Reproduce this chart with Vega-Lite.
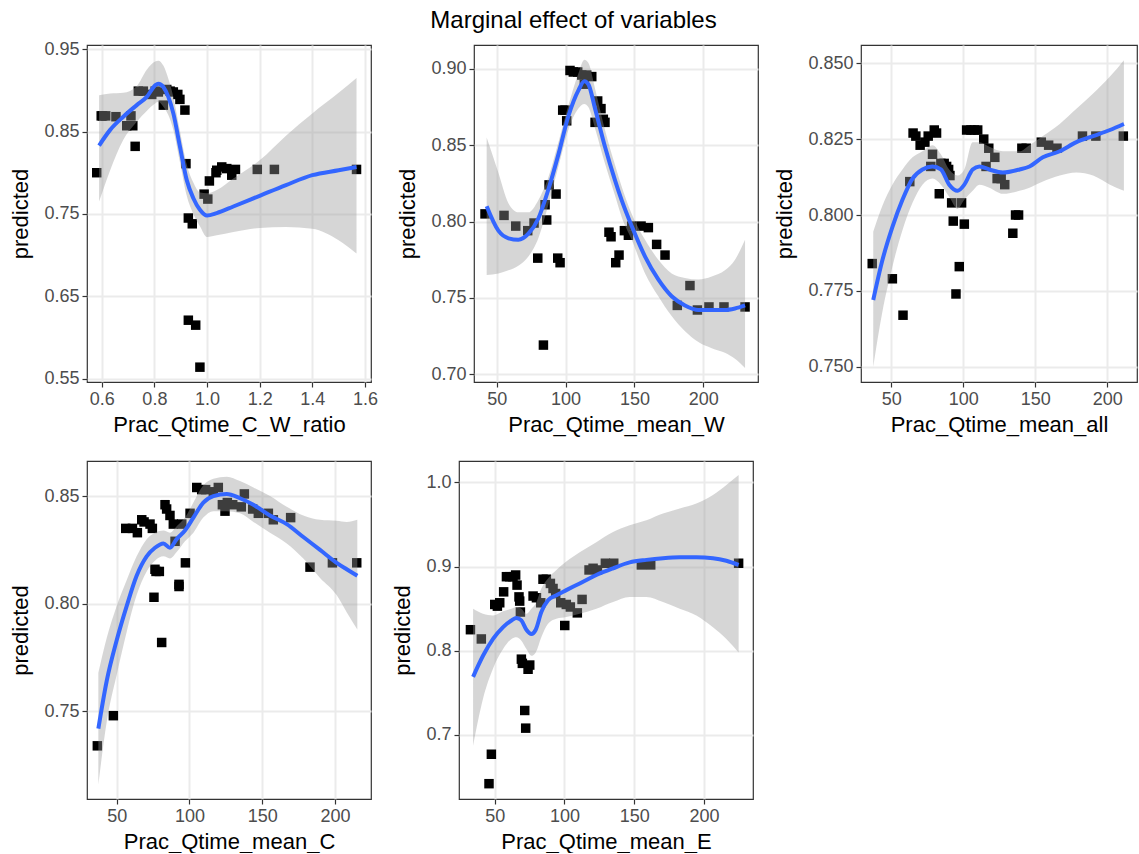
{
  "$schema": "https://vega.github.io/schema/vega-lite/v6.json",
  "padding": {"left": 9, "top": 8, "right": 0, "bottom": 0},
  "title": {"text": "Marginal effect of variables", "anchor": "middle", "fontSize": 24, "fontWeight": "normal", "color": "black", "offset": 7},
  "datasets": {
    "p1": [
      {"x": 0.581, "y": 0.800}, {"x": 0.598, "y": 0.869}, {"x": 0.603, "y": 0.869}, {"x": 0.615, "y": 0.869},
      {"x": 0.654, "y": 0.868}, {"x": 0.695, "y": 0.857}, {"x": 0.711, "y": 0.869}, {"x": 0.718, "y": 0.857},
      {"x": 0.727, "y": 0.832}, {"x": 0.739, "y": 0.899}, {"x": 0.758, "y": 0.899}, {"x": 0.79, "y": 0.895},
      {"x": 0.803, "y": 0.899}, {"x": 0.815, "y": 0.898}, {"x": 0.834, "y": 0.882}, {"x": 0.847, "y": 0.901},
      {"x": 0.86, "y": 0.899}, {"x": 0.872, "y": 0.898}, {"x": 0.889, "y": 0.895}, {"x": 0.897, "y": 0.889},
      {"x": 0.916, "y": 0.876}, {"x": 0.92, "y": 0.811}, {"x": 0.929, "y": 0.745}, {"x": 0.944, "y": 0.738},
      {"x": 0.929, "y": 0.621}, {"x": 0.957, "y": 0.615}, {"x": 0.973, "y": 0.564}, {"x": 0.989, "y": 0.774},
      {"x": 1.003, "y": 0.768}, {"x": 1.009, "y": 0.790}, {"x": 1.034, "y": 0.800}, {"x": 1.037, "y": 0.803},
      {"x": 1.056, "y": 0.807}, {"x": 1.075, "y": 0.805}, {"x": 1.094, "y": 0.797}, {"x": 1.108, "y": 0.804},
      {"x": 1.191, "y": 0.804}, {"x": 1.256, "y": 0.804}, {"x": 1.568, "y": 0.804}
    ],
    "f1": [
      {"x": 0.59, "fit": 0.833, "lo": 0.765, "hi": 0.894},
      {"x": 0.632, "fit": 0.852, "lo": 0.803, "hi": 0.896},
      {"x": 0.682, "fit": 0.868, "lo": 0.840, "hi": 0.897},
      {"x": 0.733, "fit": 0.882, "lo": 0.862, "hi": 0.905},
      {"x": 0.771, "fit": 0.892, "lo": 0.875, "hi": 0.925},
      {"x": 0.803, "fit": 0.906, "lo": 0.884, "hi": 0.935},
      {"x": 0.815, "fit": 0.908, "lo": 0.886, "hi": 0.936},
      {"x": 0.834, "fit": 0.904, "lo": 0.880, "hi": 0.930},
      {"x": 0.853, "fit": 0.892, "lo": 0.870, "hi": 0.914},
      {"x": 0.872, "fit": 0.872, "lo": 0.852, "hi": 0.892},
      {"x": 0.897, "fit": 0.832, "lo": 0.813, "hi": 0.851},
      {"x": 0.923, "fit": 0.791, "lo": 0.772, "hi": 0.810},
      {"x": 0.948, "fit": 0.769, "lo": 0.750, "hi": 0.788},
      {"x": 0.973, "fit": 0.755, "lo": 0.735, "hi": 0.776},
      {"x": 1.0, "fit": 0.748, "lo": 0.722, "hi": 0.775},
      {"x": 1.037, "fit": 0.751, "lo": 0.724, "hi": 0.779},
      {"x": 1.1, "fit": 0.759, "lo": 0.728, "hi": 0.793},
      {"x": 1.2, "fit": 0.772, "lo": 0.733, "hi": 0.815},
      {"x": 1.3, "fit": 0.785, "lo": 0.734, "hi": 0.845},
      {"x": 1.4, "fit": 0.797, "lo": 0.732, "hi": 0.872},
      {"x": 1.5, "fit": 0.803, "lo": 0.718, "hi": 0.897},
      {"x": 1.568, "fit": 0.807, "lo": 0.702, "hi": 0.915}
    ],
    "p2": [
      {"x": 41.5, "y": 0.805}, {"x": 55.3, "y": 0.804}, {"x": 63.8, "y": 0.797}, {"x": 72.5, "y": 0.794},
      {"x": 77.1, "y": 0.799}, {"x": 79.8, "y": 0.776}, {"x": 83.9, "y": 0.719}, {"x": 85.1, "y": 0.811},
      {"x": 86.3, "y": 0.801}, {"x": 88, "y": 0.824}, {"x": 93.1, "y": 0.818}, {"x": 94.3, "y": 0.776},
      {"x": 96, "y": 0.773}, {"x": 97.9, "y": 0.873}, {"x": 99.6, "y": 0.873}, {"x": 100.8, "y": 0.866},
      {"x": 103.2, "y": 0.899}, {"x": 105.6, "y": 0.898}, {"x": 108.8, "y": 0.898}, {"x": 111.7, "y": 0.896},
      {"x": 113.6, "y": 0.890}, {"x": 115.3, "y": 0.896}, {"x": 119, "y": 0.895}, {"x": 121.4, "y": 0.865},
      {"x": 123.3, "y": 0.879}, {"x": 125.7, "y": 0.874}, {"x": 127.4, "y": 0.867}, {"x": 128.6, "y": 0.865},
      {"x": 131.5, "y": 0.793}, {"x": 133, "y": 0.790}, {"x": 136.4, "y": 0.773}, {"x": 138.8, "y": 0.778},
      {"x": 142.7, "y": 0.794}, {"x": 145.6, "y": 0.791}, {"x": 148, "y": 0.797}, {"x": 154.8, "y": 0.797},
      {"x": 160.1, "y": 0.796}, {"x": 166.1, "y": 0.785}, {"x": 172.2, "y": 0.778}, {"x": 181.1, "y": 0.745},
      {"x": 190.3, "y": 0.758}, {"x": 195.7, "y": 0.742}, {"x": 204.1, "y": 0.744}, {"x": 215, "y": 0.744},
      {"x": 230.3, "y": 0.744}
    ],
    "f2": [
      {"x": 42.7, "fit": 0.810, "lo": 0.765, "hi": 0.855},
      {"x": 51.2, "fit": 0.794, "lo": 0.766, "hi": 0.832},
      {"x": 58.5, "fit": 0.789, "lo": 0.768, "hi": 0.812},
      {"x": 65.7, "fit": 0.788, "lo": 0.771, "hi": 0.806},
      {"x": 73, "fit": 0.792, "lo": 0.777, "hi": 0.806},
      {"x": 80.2, "fit": 0.802, "lo": 0.789, "hi": 0.814},
      {"x": 87.5, "fit": 0.821, "lo": 0.811, "hi": 0.829},
      {"x": 94.8, "fit": 0.844, "lo": 0.836, "hi": 0.852},
      {"x": 102, "fit": 0.869, "lo": 0.860, "hi": 0.876},
      {"x": 109.3, "fit": 0.886, "lo": 0.874, "hi": 0.897},
      {"x": 113.6, "fit": 0.892, "lo": 0.877, "hi": 0.906},
      {"x": 116.5, "fit": 0.890, "lo": 0.875, "hi": 0.904},
      {"x": 121.4, "fit": 0.874, "lo": 0.861, "hi": 0.887},
      {"x": 128.6, "fit": 0.849, "lo": 0.838, "hi": 0.860},
      {"x": 135.9, "fit": 0.827, "lo": 0.817, "hi": 0.837},
      {"x": 140.7, "fit": 0.814, "lo": 0.803, "hi": 0.823},
      {"x": 148, "fit": 0.797, "lo": 0.788, "hi": 0.805},
      {"x": 157.7, "fit": 0.777, "lo": 0.766, "hi": 0.788},
      {"x": 167.3, "fit": 0.762, "lo": 0.751, "hi": 0.775},
      {"x": 177, "fit": 0.751, "lo": 0.738, "hi": 0.766},
      {"x": 186.7, "fit": 0.745, "lo": 0.728, "hi": 0.763},
      {"x": 196.4, "fit": 0.742, "lo": 0.721, "hi": 0.762},
      {"x": 206.1, "fit": 0.742, "lo": 0.717, "hi": 0.764},
      {"x": 215.7, "fit": 0.742, "lo": 0.714, "hi": 0.768},
      {"x": 223, "fit": 0.743, "lo": 0.710, "hi": 0.775},
      {"x": 230.3, "fit": 0.745, "lo": 0.704, "hi": 0.788}
    ],
    "p3": [
      {"x": 36.7, "y": 0.784}, {"x": 50.7, "y": 0.779}, {"x": 58.1, "y": 0.767}, {"x": 62.8, "y": 0.811},
      {"x": 65.1, "y": 0.827}, {"x": 67, "y": 0.826}, {"x": 70, "y": 0.823}, {"x": 73.3, "y": 0.824},
      {"x": 75.6, "y": 0.826}, {"x": 77.4, "y": 0.816}, {"x": 78.6, "y": 0.820}, {"x": 79.8, "y": 0.828},
      {"x": 81.4, "y": 0.827}, {"x": 83.3, "y": 0.807}, {"x": 84.4, "y": 0.817}, {"x": 86.7, "y": 0.817},
      {"x": 88.4, "y": 0.816}, {"x": 89.8, "y": 0.815}, {"x": 90.7, "y": 0.813}, {"x": 91.9, "y": 0.804},
      {"x": 93, "y": 0.798}, {"x": 94.9, "y": 0.774}, {"x": 97.2, "y": 0.783}, {"x": 98.8, "y": 0.804},
      {"x": 100.7, "y": 0.797}, {"x": 102.3, "y": 0.828}, {"x": 105.3, "y": 0.828}, {"x": 107.7, "y": 0.828},
      {"x": 110, "y": 0.828}, {"x": 114.2, "y": 0.825}, {"x": 115.8, "y": 0.816}, {"x": 117.7, "y": 0.822},
      {"x": 121.9, "y": 0.819}, {"x": 123.5, "y": 0.812}, {"x": 126.3, "y": 0.812}, {"x": 128.8, "y": 0.810},
      {"x": 134.4, "y": 0.794}, {"x": 136.3, "y": 0.800}, {"x": 138.4, "y": 0.800}, {"x": 140.7, "y": 0.822},
      {"x": 143.7, "y": 0.822}, {"x": 154.2, "y": 0.824}, {"x": 159.3, "y": 0.823}, {"x": 165.1, "y": 0.822},
      {"x": 182.8, "y": 0.826}, {"x": 192.1, "y": 0.826}, {"x": 211.2, "y": 0.826}
    ],
    "f3": [
      {"x": 37.4, "fit": 0.772, "lo": 0.750, "hi": 0.7945},
      {"x": 43.7, "fit": 0.785, "lo": 0.768, "hi": 0.803},
      {"x": 50.7, "fit": 0.796, "lo": 0.783, "hi": 0.810},
      {"x": 57.7, "fit": 0.805, "lo": 0.795, "hi": 0.815},
      {"x": 64.7, "fit": 0.812, "lo": 0.804, "hi": 0.819},
      {"x": 71.6, "fit": 0.815, "lo": 0.810, "hi": 0.821},
      {"x": 78.6, "fit": 0.816, "lo": 0.812, "hi": 0.823},
      {"x": 84.4, "fit": 0.815, "lo": 0.810, "hi": 0.820},
      {"x": 90.2, "fit": 0.810, "lo": 0.806, "hi": 0.815},
      {"x": 96, "fit": 0.808, "lo": 0.802, "hi": 0.813},
      {"x": 100.7, "fit": 0.810, "lo": 0.805, "hi": 0.815},
      {"x": 106.5, "fit": 0.815, "lo": 0.808, "hi": 0.824},
      {"x": 111.2, "fit": 0.816, "lo": 0.810, "hi": 0.824},
      {"x": 118.1, "fit": 0.815, "lo": 0.809, "hi": 0.8225},
      {"x": 127.4, "fit": 0.814, "lo": 0.807, "hi": 0.821},
      {"x": 139.1, "fit": 0.815, "lo": 0.808, "hi": 0.821},
      {"x": 146, "fit": 0.816, "lo": 0.809, "hi": 0.823},
      {"x": 155.3, "fit": 0.819, "lo": 0.811, "hi": 0.826},
      {"x": 167, "fit": 0.821, "lo": 0.813, "hi": 0.830},
      {"x": 178.6, "fit": 0.824, "lo": 0.814, "hi": 0.835},
      {"x": 190.2, "fit": 0.826, "lo": 0.813, "hi": 0.840},
      {"x": 201.9, "fit": 0.828, "lo": 0.810, "hi": 0.8456},
      {"x": 211.6, "fit": 0.830, "lo": 0.808, "hi": 0.851}
    ],
    "p4": [
      {"x": 36.7, "y": 0.734}, {"x": 47.7, "y": 0.748}, {"x": 56.2, "y": 0.835}, {"x": 60.8, "y": 0.835},
      {"x": 64.2, "y": 0.833}, {"x": 67.2, "y": 0.839}, {"x": 68.8, "y": 0.838}, {"x": 72.9, "y": 0.837},
      {"x": 74.5, "y": 0.835}, {"x": 75.6, "y": 0.803}, {"x": 76.3, "y": 0.816}, {"x": 77, "y": 0.815},
      {"x": 79.3, "y": 0.815}, {"x": 80.9, "y": 0.782}, {"x": 83.2, "y": 0.846}, {"x": 84.3, "y": 0.844},
      {"x": 86.6, "y": 0.841}, {"x": 88.9, "y": 0.837}, {"x": 90.1, "y": 0.829}, {"x": 92.8, "y": 0.809},
      {"x": 92.8, "y": 0.808}, {"x": 94.7, "y": 0.837}, {"x": 97.2, "y": 0.819}, {"x": 100.4, "y": 0.842},
      {"x": 105, "y": 0.854}, {"x": 108.4, "y": 0.853}, {"x": 111.1, "y": 0.853}, {"x": 116.4, "y": 0.852},
      {"x": 119.8, "y": 0.854}, {"x": 122.6, "y": 0.846}, {"x": 124.4, "y": 0.843}, {"x": 126, "y": 0.847},
      {"x": 129.7, "y": 0.846}, {"x": 135.6, "y": 0.845}, {"x": 137.7, "y": 0.851}, {"x": 143.4, "y": 0.844},
      {"x": 147.3, "y": 0.842}, {"x": 154.2, "y": 0.842}, {"x": 157.6, "y": 0.839}, {"x": 169.5, "y": 0.840},
      {"x": 182.8, "y": 0.817}, {"x": 198.2, "y": 0.819}, {"x": 214.9, "y": 0.819}
    ],
    "f4": [
      {"x": 37.4, "fit": 0.742, "lo": 0.716, "hi": 0.768},
      {"x": 43.1, "fit": 0.764, "lo": 0.745, "hi": 0.784},
      {"x": 50, "fit": 0.783, "lo": 0.767, "hi": 0.799},
      {"x": 56.9, "fit": 0.799, "lo": 0.787, "hi": 0.811},
      {"x": 63.7, "fit": 0.813, "lo": 0.804, "hi": 0.822},
      {"x": 70.6, "fit": 0.822, "lo": 0.815, "hi": 0.830},
      {"x": 76.3, "fit": 0.826, "lo": 0.820, "hi": 0.833},
      {"x": 82.1, "fit": 0.828, "lo": 0.822, "hi": 0.834},
      {"x": 86.6, "fit": 0.826, "lo": 0.821, "hi": 0.833},
      {"x": 91.2, "fit": 0.830, "lo": 0.824, "hi": 0.836},
      {"x": 96.9, "fit": 0.834, "lo": 0.829, "hi": 0.840},
      {"x": 102.7, "fit": 0.840, "lo": 0.833, "hi": 0.847},
      {"x": 109.5, "fit": 0.847, "lo": 0.840, "hi": 0.855},
      {"x": 116.4, "fit": 0.850, "lo": 0.843, "hi": 0.858},
      {"x": 125.6, "fit": 0.851, "lo": 0.843, "hi": 0.859},
      {"x": 134.7, "fit": 0.849, "lo": 0.842, "hi": 0.857},
      {"x": 143.9, "fit": 0.846, "lo": 0.838, "hi": 0.854},
      {"x": 155.3, "fit": 0.841, "lo": 0.833, "hi": 0.850},
      {"x": 166.8, "fit": 0.837, "lo": 0.828, "hi": 0.845},
      {"x": 178.2, "fit": 0.831, "lo": 0.821, "hi": 0.841},
      {"x": 189.7, "fit": 0.825, "lo": 0.812, "hi": 0.839},
      {"x": 201.1, "fit": 0.819, "lo": 0.804, "hi": 0.8385},
      {"x": 208, "fit": 0.816, "lo": 0.796, "hi": 0.838},
      {"x": 215.3, "fit": 0.813, "lo": 0.788, "hi": 0.839}
    ],
    "p5": [
      {"x": 32.6, "y": 0.825}, {"x": 40.4, "y": 0.814}, {"x": 45.9, "y": 0.642}, {"x": 47.6, "y": 0.677},
      {"x": 50, "y": 0.855}, {"x": 51.9, "y": 0.853}, {"x": 53.6, "y": 0.857}, {"x": 56.4, "y": 0.870},
      {"x": 58.4, "y": 0.888}, {"x": 60.7, "y": 0.888}, {"x": 63.1, "y": 0.888}, {"x": 65, "y": 0.890},
      {"x": 66, "y": 0.878}, {"x": 67.4, "y": 0.864}, {"x": 67.9, "y": 0.859}, {"x": 68.4, "y": 0.846},
      {"x": 69.1, "y": 0.790}, {"x": 69.8, "y": 0.785}, {"x": 71.5, "y": 0.729}, {"x": 72.2, "y": 0.708},
      {"x": 73.9, "y": 0.778}, {"x": 75.1, "y": 0.783}, {"x": 77.5, "y": 0.865}, {"x": 79.9, "y": 0.863},
      {"x": 83, "y": 0.857}, {"x": 84.6, "y": 0.885}, {"x": 87, "y": 0.885}, {"x": 89.9, "y": 0.880},
      {"x": 91.8, "y": 0.874}, {"x": 93.7, "y": 0.868}, {"x": 97.3, "y": 0.857}, {"x": 100.2, "y": 0.830},
      {"x": 101.3, "y": 0.855}, {"x": 104.2, "y": 0.852}, {"x": 109.2, "y": 0.845}, {"x": 112.6, "y": 0.861},
      {"x": 117.6, "y": 0.896}, {"x": 120.5, "y": 0.898}, {"x": 123.6, "y": 0.896}, {"x": 129.3, "y": 0.904},
      {"x": 135.3, "y": 0.904}, {"x": 155.1, "y": 0.902}, {"x": 161.8, "y": 0.902}, {"x": 224.8, "y": 0.904}
    ],
    "f5": [
      {"x": 34.5, "fit": 0.769, "lo": 0.687, "hi": 0.850},
      {"x": 41.6, "fit": 0.794, "lo": 0.743, "hi": 0.844},
      {"x": 48.8, "fit": 0.814, "lo": 0.779, "hi": 0.842},
      {"x": 56, "fit": 0.828, "lo": 0.802, "hi": 0.847},
      {"x": 62, "fit": 0.836, "lo": 0.814, "hi": 0.850},
      {"x": 65.5, "fit": 0.839, "lo": 0.816, "hi": 0.852},
      {"x": 69.1, "fit": 0.836, "lo": 0.812, "hi": 0.850},
      {"x": 72.7, "fit": 0.825, "lo": 0.802, "hi": 0.844},
      {"x": 76.3, "fit": 0.820, "lo": 0.794, "hi": 0.850},
      {"x": 79.4, "fit": 0.825, "lo": 0.798, "hi": 0.856},
      {"x": 83.4, "fit": 0.846, "lo": 0.816, "hi": 0.874},
      {"x": 88.2, "fit": 0.860, "lo": 0.832, "hi": 0.886},
      {"x": 94.2, "fit": 0.866, "lo": 0.838, "hi": 0.896},
      {"x": 101.3, "fit": 0.872, "lo": 0.840, "hi": 0.906},
      {"x": 110.9, "fit": 0.880, "lo": 0.844, "hi": 0.917},
      {"x": 122.8, "fit": 0.890, "lo": 0.850, "hi": 0.929},
      {"x": 134.8, "fit": 0.898, "lo": 0.858, "hi": 0.941},
      {"x": 146.7, "fit": 0.905, "lo": 0.864, "hi": 0.949},
      {"x": 158.7, "fit": 0.908, "lo": 0.864, "hi": 0.955},
      {"x": 170.6, "fit": 0.910, "lo": 0.858, "hi": 0.963},
      {"x": 182.6, "fit": 0.911, "lo": 0.850, "hi": 0.969},
      {"x": 194.5, "fit": 0.911, "lo": 0.842, "hi": 0.975},
      {"x": 206.4, "fit": 0.910, "lo": 0.828, "hi": 0.985},
      {"x": 216, "fit": 0.907, "lo": 0.814, "hi": 0.997},
      {"x": 224.8, "fit": 0.902, "lo": 0.798, "hi": 1.009}
    ]
  },
  "spacing": 24,
  "vconcat": [
    {
      "spacing": 103,
      "bounds": "flush",
      "hconcat": [
        {
          "width": 284, "height": 337,
          "resolve": {"axis": {"x": "independent", "y": "independent"}},
          "layer": [
            {"data": {"name": "p1"}, "mark": {"type": "point", "shape": "square", "filled": true, "size": 90, "color": "black", "opacity": 1},
             "encoding": {
               "x": {"field": "x", "type": "quantitative", "scale": {"domain": [0.544, 1.623], "nice": false, "zero": false}, "axis": {"values": [0.6, 0.8, 1.0, 1.2, 1.4, 1.6], "format": ".1f", "title": "Prac_Qtime_C_W_ratio"}},
               "y": {"field": "y", "type": "quantitative", "scale": {"domain": [0.546, 0.955], "nice": false, "zero": false}, "axis": {"values": [0.55, 0.65, 0.75, 0.85, 0.95], "format": ".2f", "title": "predicted"}}}},
            {"data": {"name": "f1"}, "mark": {"type": "area", "color": "#999999", "opacity": 0.4, "interpolate": "monotone"},
             "encoding": {
               "x": {"field": "x", "type": "quantitative", "axis": {"orient": "top", "values": [0.7, 0.9, 1.1, 1.3, 1.5], "labels": false, "ticks": false, "domain": false, "title": null, "gridWidth": 1}},
               "y": {"field": "lo", "type": "quantitative", "axis": {"orient": "right", "values": [0.6, 0.7, 0.8, 0.9], "labels": false, "ticks": false, "domain": false, "title": null, "gridWidth": 1}},
               "y2": {"field": "hi"}}},
            {"data": {"name": "f1"}, "mark": {"type": "line", "color": "#3366FF", "strokeWidth": 4, "interpolate": "monotone"},
             "encoding": {
               "x": {"field": "x", "type": "quantitative", "axis": null},
               "y": {"field": "fit", "type": "quantitative", "axis": null}}}
          ]
        },
        {
          "width": 284, "height": 337,
          "resolve": {"axis": {"x": "independent", "y": "independent"}},
          "layer": [
            {"data": {"name": "p2"}, "mark": {"type": "point", "shape": "square", "filled": true, "size": 90, "color": "black", "opacity": 1},
             "encoding": {
               "x": {"field": "x", "type": "quantitative", "scale": {"domain": [33.5, 239.7], "nice": false, "zero": false}, "axis": {"values": [50, 100, 150, 200], "title": "Prac_Qtime_mean_W"}},
               "y": {"field": "y", "type": "quantitative", "scale": {"domain": [0.6948, 0.9157], "nice": false, "zero": false}, "axis": {"values": [0.70, 0.75, 0.80, 0.85, 0.90], "format": ".2f", "title": "predicted"}}}},
            {"data": {"name": "f2"}, "mark": {"type": "area", "color": "#999999", "opacity": 0.4, "interpolate": "monotone"},
             "encoding": {
               "x": {"field": "x", "type": "quantitative", "axis": {"orient": "top", "values": [75, 125, 175, 225], "labels": false, "ticks": false, "domain": false, "title": null, "gridWidth": 1}},
               "y": {"field": "lo", "type": "quantitative", "axis": {"orient": "right", "values": [0.725, 0.775, 0.825, 0.875], "labels": false, "ticks": false, "domain": false, "title": null, "gridWidth": 1}},
               "y2": {"field": "hi"}}},
            {"data": {"name": "f2"}, "mark": {"type": "line", "color": "#3366FF", "strokeWidth": 4, "interpolate": "monotone"},
             "encoding": {
               "x": {"field": "x", "type": "quantitative", "axis": null},
               "y": {"field": "fit", "type": "quantitative", "axis": null}}}
          ]
        },
        {
          "width": 276, "height": 337,
          "resolve": {"axis": {"x": "independent", "y": "independent"}},
          "layer": [
            {"data": {"name": "p3"}, "mark": {"type": "point", "shape": "square", "filled": true, "size": 90, "color": "black", "opacity": 1},
             "encoding": {
               "x": {"field": "x", "type": "quantitative", "scale": {"domain": [28.9, 220.7], "nice": false, "zero": false}, "axis": {"values": [50, 100, 150, 200], "title": "Prac_Qtime_mean_all"}},
               "y": {"field": "y", "type": "quantitative", "scale": {"domain": [0.745, 0.856], "nice": false, "zero": false}, "axis": {"values": [0.750, 0.775, 0.800, 0.825, 0.850], "format": ".3f", "title": "predicted"}}}},
            {"data": {"name": "f3"}, "mark": {"type": "area", "color": "#999999", "opacity": 0.4, "interpolate": "monotone"},
             "encoding": {
               "x": {"field": "x", "type": "quantitative", "axis": {"orient": "top", "values": [75, 125, 175], "labels": false, "ticks": false, "domain": false, "title": null, "gridWidth": 1}},
               "y": {"field": "lo", "type": "quantitative", "axis": {"orient": "right", "values": [0.7625, 0.7875, 0.8125, 0.8375], "labels": false, "ticks": false, "domain": false, "title": null, "gridWidth": 1}},
               "y2": {"field": "hi"}}},
            {"data": {"name": "f3"}, "mark": {"type": "line", "color": "#3366FF", "strokeWidth": 4, "interpolate": "monotone"},
             "encoding": {
               "x": {"field": "x", "type": "quantitative", "axis": null},
               "y": {"field": "fit", "type": "quantitative", "axis": null}}}
          ]
        }
      ]
    },
    {
      "spacing": 88,
      "bounds": "flush",
      "hconcat": [
        {
          "width": 284, "height": 338,
          "resolve": {"axis": {"x": "independent", "y": "independent"}},
          "layer": [
            {"data": {"name": "p4"}, "mark": {"type": "point", "shape": "square", "filled": true, "size": 90, "color": "black", "opacity": 1},
             "encoding": {
               "x": {"field": "x", "type": "quantitative", "scale": {"domain": [29.6, 224.7], "nice": false, "zero": false}, "axis": {"values": [50, 100, 150, 200], "title": "Prac_Qtime_mean_C"}},
               "y": {"field": "y", "type": "quantitative", "scale": {"domain": [0.7093, 0.8663], "nice": false, "zero": false}, "axis": {"values": [0.75, 0.80, 0.85], "format": ".2f", "title": "predicted"}}}},
            {"data": {"name": "f4"}, "mark": {"type": "area", "color": "#999999", "opacity": 0.4, "interpolate": "monotone"},
             "encoding": {
               "x": {"field": "x", "type": "quantitative", "axis": {"orient": "top", "values": [75, 125, 175], "labels": false, "ticks": false, "domain": false, "title": null, "gridWidth": 1}},
               "y": {"field": "lo", "type": "quantitative", "axis": {"orient": "right", "values": [0.725, 0.775, 0.825], "labels": false, "ticks": false, "domain": false, "title": null, "gridWidth": 1}},
               "y2": {"field": "hi"}}},
            {"data": {"name": "f4"}, "mark": {"type": "line", "color": "#3366FF", "strokeWidth": 4, "interpolate": "monotone"},
             "encoding": {
               "x": {"field": "x", "type": "quantitative", "axis": null},
               "y": {"field": "fit", "type": "quantitative", "axis": null}}}
          ]
        },
        {
          "width": 294, "height": 338,
          "resolve": {"axis": {"x": "independent", "y": "independent"}},
          "layer": [
            {"data": {"name": "p5"}, "mark": {"type": "point", "shape": "square", "filled": true, "size": 90, "color": "black", "opacity": 1},
             "encoding": {
               "x": {"field": "x", "type": "quantitative", "scale": {"domain": [24.4, 235.1], "nice": false, "zero": false}, "axis": {"values": [50, 100, 150, 200], "title": "Prac_Qtime_mean_E"}},
               "y": {"field": "y", "type": "quantitative", "scale": {"domain": [0.6238, 1.0255], "nice": false, "zero": false}, "axis": {"values": [0.7, 0.8, 0.9, 1.0], "format": ".1f", "title": "predicted"}}}},
            {"data": {"name": "f5"}, "mark": {"type": "area", "color": "#999999", "opacity": 0.4, "interpolate": "monotone"},
             "encoding": {
               "x": {"field": "x", "type": "quantitative", "axis": {"orient": "top", "values": [75, 125, 175, 225], "labels": false, "ticks": false, "domain": false, "title": null, "gridWidth": 1}},
               "y": {"field": "lo", "type": "quantitative", "axis": {"orient": "right", "values": [0.65, 0.75, 0.85, 0.95], "labels": false, "ticks": false, "domain": false, "title": null, "gridWidth": 1}},
               "y2": {"field": "hi"}}},
            {"data": {"name": "f5"}, "mark": {"type": "line", "color": "#3366FF", "strokeWidth": 4, "interpolate": "monotone"},
             "encoding": {
               "x": {"field": "x", "type": "quantitative", "axis": null},
               "y": {"field": "fit", "type": "quantitative", "axis": null}}}
          ]
        }
      ]
    }
  ],
  "config": {
    "font": "Liberation Sans",
    "view": {"stroke": "#333333", "strokeWidth": 1.2},
    "axis": {
      "labelFontSize": 18, "labelColor": "#4D4D4D", "labelPadding": 3, "labelFlush": false, "labelOverlap": false,
      "titleFontSize": 22, "titleFontWeight": "normal", "titleColor": "black",
      "tickColor": "#333333", "tickSize": 5, "tickWidth": 1.2, "domain": false,
      "gridColor": "#EBEBEB", "gridWidth": 2
    },
    "axisX": {"titlePadding": 6},
    "axisY": {"titlePadding": 11}
  }
}
